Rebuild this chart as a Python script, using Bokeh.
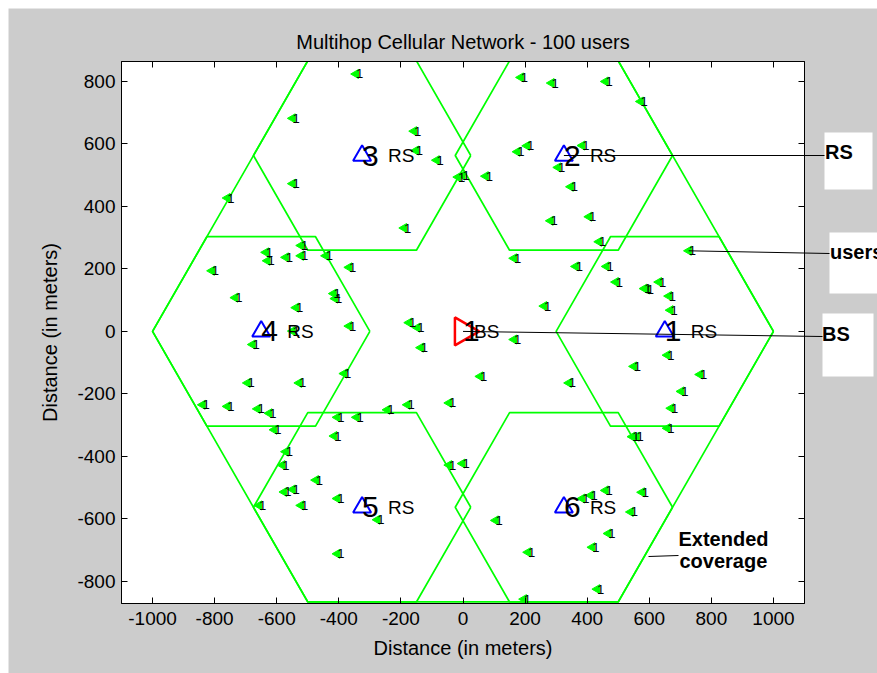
import math
from bokeh.plotting import figure
from bokeh.models import (Range1d, LinearAxis, FixedTicker, ColumnDataSource)
from bokeh.core.properties import value
from bokeh.embed import file_html
from bokeh.resources import INLINE

# ---------------- data ----------------
user_x = [-345, -549, -158, -152, -85, -16, -2, -549, -759, -190,
          -522, -522, -635, -630, -571, -442, -367, -809, -734, -417,
          -412, -538, -367, -174, -147, -549, -678, -694, -528, -383,
          -839, -759, -662, -624, -608, -405, -343, -415, -136, -45,
          -244, -179, -571, -582, -474, -576, -549, -657, -522, -405,
          -276, -405, -45, -2, 164, 55, 341, 658, 550, 763,
          703, 670, 658, 545, 559, 459, 576, 411, 384, 540,
          105, 468, 416, 209, 432, 196, 186, 285, 459, 572,
          175, 206, 384, 306, 347, 73, 282, 406, 164, 438,
          363, 462, 492, 584, 592, 631, 663, 668, 727, 261]
user_y = [824, 682, 641, 579, 548, 494, 499, 473, 427, 331,
          275, 242, 253, 226, 237, 242, 205, 194, 108, 121,
          105, 76, 17, 28, 12, 1, -42, -165, -165, -135,
          -235, -240, -248, -262, -315, -275, -275, -335, -52, -229,
          -251, -235, -385, -428, -476, -514, -506, -557, -557, -535,
          -603, -712, -428, -423, -26, -144, -165, -76, -112, -138,
          -192, -246, -310, -337, -337, -509, -515, -525, -535, -578,
          -605, -647, -691, -707, -825, -857, 813, 795, 800, 736,
          575, 594, 595, 525, 463, 497, 354, 367, 234, 287,
          208, 208, 158, 137, 134, 158, 113, 68, 258, 81]
user_label = ["1"] * len(user_x)

rs_ids = ["1", "2", "3", "4", "5", "6"]
rs_x = [650, 325, -325, -650, -325, 325]
rs_y = [0, 563, 563, 0, -563, -563]
bs_x = [0]
bs_y = [0]
bs_ids = ["1"]

bs_cell_radius = 1000
rs_cell_radius = 350

x_ticks = [-1000, -800, -600, -400, -200, 0, 200, 400, 600, 800, 1000]
x_tick_labels = ["-1000", "-800", "-600", "-400", "-200", "0", "200", "400", "600", "800", "1000"]
y_ticks = [-800, -600, -400, -200, 0, 200, 400, 600, 800]
y_tick_labels = ["-800", "-600", "-400", "-200", "0", "200", "400", "600", "800"]

callout_texts = ["RS", "users", "BS", "Extended", "coverage"]

# ---------------- figure ----------------
FONT = "Liberation Sans"
W, H = 877, 673
ML, MR, MT, MB = 121, 73, 61, 70
X0, X1 = -1100, 1100
Y0, Y1 = -871, 864

p = figure(width=W, height=H, x_range=Range1d(X0, X1), y_range=Range1d(Y0, Y1),
           output_backend="svg", toolbar_location=None,
           min_border_left=ML, min_border_right=MR, min_border_top=MT, min_border_bottom=MB,
           background_fill_color="white", border_fill_color="#cccccc",
           outline_line_color="black", outline_line_width=1,
           title="Multihop Cellular Network - 100 users")
p.grid.visible = False
p.title.align = "center"
p.title.text_font = FONT
p.title.text_font_size = "20px"
p.title.text_font_style = "normal"
p.title.text_color = "black"
p.title.standoff = 18

# canvas-pixel -> data helpers (for callouts placed outside the frame)
FW, FH = W - ML - MR, H - MT - MB
def sx(px):
    return X0 + (px - ML) * (X1 - X0) / FW
def sy(py):
    return Y1 - (py - MT) * (Y1 - Y0) / FH

def style_axis(ax, ticks, labels, show_labels=True, standoff=6):
    ax.ticker = FixedTicker(ticks=ticks)
    if show_labels:
        ax.major_label_overrides = {t: l for t, l in zip(ticks, labels)}
    else:
        ax.major_label_overrides = {t: "" for t in ticks}
    ax.minor_tick_line_color = None
    ax.major_tick_in = 6
    ax.major_tick_out = 0
    ax.axis_line_color = "black"
    ax.major_tick_line_color = "black"
    ax.major_label_text_font = FONT
    ax.major_label_text_font_size = "19px"
    ax.major_label_text_color = "black"
    ax.major_label_standoff = standoff if show_labels else 0
    ax.axis_label_text_font = FONT
    ax.axis_label_text_font_size = "20px"
    ax.axis_label_text_font_style = "normal"
    ax.axis_label_text_color = "black"

style_axis(p.xaxis[0], x_ticks, x_tick_labels, True, 8)
style_axis(p.yaxis[0], y_ticks, y_tick_labels, True, 6)
p.xaxis[0].axis_label = "Distance (in meters)"
p.yaxis[0].axis_label = "Distance (in meters)"
p.xaxis[0].axis_label_standoff = 9
p.yaxis[0].axis_label_standoff = 13

top_ax = LinearAxis()
right_ax = LinearAxis()
style_axis(top_ax, x_ticks, x_tick_labels, False)
style_axis(right_ax, y_ticks, y_tick_labels, False)
p.add_layout(top_ax, "above")
p.add_layout(right_ax, "right")

# ---------------- cells ----------------
def hexagon(cx, cy, r):
    xs, ys = [], []
    for k in range(7):
        a = math.radians(60 * k)
        xs.append(cx + r * math.cos(a))
        ys.append(cy + r * math.sin(a))
    return xs, ys

hx, hy = [], []
bx, by = hexagon(bs_x[0], bs_y[0], bs_cell_radius)
hx.append(bx); hy.append(by)
for cx, cy in zip(rs_x, rs_y):
    a, b = hexagon(cx, cy, rs_cell_radius)
    hx.append(a); hy.append(b)
p.multi_line(hx, hy, line_color="#00ff00", line_width=1.7)

# ---------------- users ----------------
usrc = ColumnDataSource(dict(x=user_x, y=user_y, t=user_label))
p.scatter("x", "y", source=usrc, marker="triangle", size=9, angle=math.pi / 2,
          fill_color="#00ff00", line_color="#00ff00", line_width=1)
p.text("x", "y", text="t", source=usrc, text_font=value(FONT), text_font_size=value("13px"),
       text_baseline="middle", text_align="left", x_offset=0, text_color="black")

# ---------------- RS / BS ----------------
p.scatter(rs_x, rs_y, marker="triangle", size=18, fill_color=None,
          line_color="#0000ff", line_width=2)
p.text(rs_x, rs_y, text=rs_ids, text_font=value(FONT), text_font_size=value("30px"),
       text_baseline="middle", text_align="left", text_color="black")
p.text(rs_x, rs_y, text=["RS"] * len(rs_x), text_font=value(FONT), text_font_size=value("19px"),
       text_baseline="middle", text_align="left", x_offset=26, text_color="black")

p.scatter(bs_x, bs_y, marker="triangle", size=28, angle=-math.pi / 2, fill_color=None,
          line_color="#ff0000", line_width=2.5)
p.text(bs_x, bs_y, text=bs_ids, text_font=value(FONT), text_font_size=value("30px"),
       text_baseline="middle", text_align="left", text_color="black")
p.text(bs_x, bs_y, text=["BS"], text_font=value(FONT), text_font_size=value("19px"),
       text_baseline="middle", text_align="left", x_offset=11, text_color="black")

# ---------------- callouts (drawn at overlay level, outside the frame) ----------------
# white page margin strips (top and left)
p.quad(left=[sx(-5), sx(-5)], right=[sx(8), sx(882)], top=[sy(-5), sy(-5)], bottom=[sy(680), sy(8)],
       fill_color="white", line_color=None, level="overlay")
# white boxes behind the callout words
box_l = [824, 829, 822]
box_r = [872, 880, 873]
box_t = [132, 232, 313]
box_b = [189, 293, 376]
p.quad(left=[sx(v) for v in box_l], right=[sx(v) for v in box_r],
       top=[sy(v) for v in box_t], bottom=[sy(v) for v in box_b],
       fill_color="white", line_color=None, level="overlay")
# leader lines
seg_x0 = [rs_x[1], user_x[98], bs_x[0], sx(648)]
seg_y0 = [rs_y[1], user_y[98], bs_y[0], sy(556)]
seg_x1 = [sx(824), sx(829), sx(822), sx(678)]
seg_y1 = [sy(155), sy(253), sy(336), sy(555)]
p.segment(seg_x0, seg_y0, seg_x1, seg_y1, line_color="black", line_width=1, level="overlay")
# callout words
lab_px = [824.5, 829.5, 821.5, 678, 679]
lab_py = [151.7, 251.7, 333.3, 538.5, 560.5]
p.text([sx(v) for v in lab_px], [sy(v) for v in lab_py], text=callout_texts,
       text_font=value(FONT), text_font_style="bold", text_font_size=value("20px"),
       text_baseline="alphabetic", text_align="left", text_color="black", level="overlay")

open("out.html", "w").write(file_html(p, INLINE))
